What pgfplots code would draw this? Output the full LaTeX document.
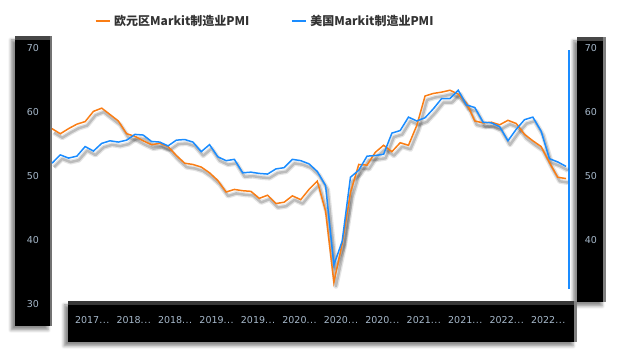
\documentclass[border=0pt]{standalone}
\usepackage{pgfplots}
\pgfplotsset{compat=1.18}
\usepackage{pgfplotstable}
\usepackage{fontspec}
\setmainfont{DejaVu Sans}
\newfontfamily\cjk{Noto Sans CJK SC}
\usetikzlibrary{shadows.blur}
\definecolor{eu}{HTML}{FA7D14}
\definecolor{us}{HTML}{1A8CFF}
\definecolor{tl}{HTML}{A6B8CA}
\definecolor{lg}{HTML}{333333}
\newcommand{\dd}{.\kern0.5pt.\kern0.5pt.}

\pgfplotstableread{
i eu us
0 57.4 52.0
1 56.6 53.3
2 57.4 52.8
3 58.1 53.1
4 58.5 54.6
5 60.1 53.9
6 60.6 55.1
7 59.6 55.5
8 58.6 55.3
9 56.6 55.6
10 56.2 56.5
11 55.5 56.4
12 54.9 55.4
13 55.1 55.3
14 54.6 54.7
15 53.2 55.6
16 52.0 55.7
17 51.8 55.3
18 51.4 53.8
19 50.5 54.9
20 49.3 53.0
21 47.5 52.4
22 47.9 52.6
23 47.7 50.5
24 47.6 50.6
25 46.5 50.4
26 47.0 50.3
27 45.7 51.1
28 45.9 51.3
29 46.9 52.6
30 46.3 52.4
31 47.9 51.9
32 49.2 50.7
33 44.5 48.5
34 33.4 36.1
35 39.4 39.8
36 47.4 49.8
37 51.8 50.9
38 51.7 53.1
39 53.7 53.2
40 54.8 53.4
41 53.8 56.7
42 55.2 57.1
43 54.8 59.2
44 57.9 58.6
45 62.5 59.1
46 62.9 60.5
47 63.1 62.1
48 63.4 62.1
49 62.8 63.4
50 61.4 61.1
51 58.6 60.7
52 58.3 58.4
53 58.4 58.3
54 58.0 57.7
55 58.7 55.5
56 58.2 57.3
57 56.5 58.8
58 55.5 59.2
59 54.6 57.0
60 52.1 52.7
61 49.8 52.2
62 49.6 51.5
}\pmi

\begin{document}
\begin{tikzpicture}[x=1pt,y=1pt]
\path[use as bounding box] (0,0) rectangle (635,356);
% left box
\fill[black, blur shadow={shadow xshift=-4pt, shadow yshift=-4pt, shadow opacity=45, shadow blur radius=3pt}] (15,30) rectangle (52,320);
\fill[black!72] (15,316) rectangle (52,320);
\fill[black!55] (49.5,30) rectangle (52,320);
% right box
\fill[black, blur shadow={shadow xshift=-4pt, shadow yshift=-4pt, shadow opacity=45, shadow blur radius=3pt}] (577,54) rectangle (606,319);
\fill[black!72] (577,315) rectangle (606,319);
\fill[black!50] (602.5,54) rectangle (606,319);
% bottom box
\fill[black, blur shadow={shadow xshift=-4pt, shadow yshift=-4pt, shadow opacity=45, shadow blur radius=3pt}] (68,14) rectangle (577,55);
\fill[black!78] (68,51) rectangle (577,55);
\fill[black!50] (573.5,14) rectangle (577,55);
% blue vertical line
\draw[us, line width=2pt] (569,67) -- (569,306);

\begin{axis}[
  at={(52pt,52pt)}, anchor=south west,
  width=514pt, height=256pt, scale only axis,
  xmin=0, xmax=62, ymin=30, ymax=70,
  clip=false,
  axis line style={draw=none},
  major tick length=0pt,
  xtick={6,11,16,21,26,31,36,41,46,51,56,61},
  xticklabels={2017\dd,2018\dd,2018\dd,2019\dd,2019\dd,2020\dd,2020\dd,2020\dd,2021\dd,2021\dd,2022\dd,2022\dd},
  xticklabel style={anchor=center, yshift=-16pt, xshift=-9.5pt},
  ytick={30,40,50,60,70},
  yticklabel style={anchor=center, xshift=-19pt},
  /pgf/number format/assume math mode=true,
  tick label style={font=\fontsize{9.5}{11}\selectfont, text=tl},
  legend columns=2,
  legend style={draw=none, fill=none, inner xsep=0pt, inner ysep=0pt,
    at={(axis description cs:0.0827,1.1055)}, anchor=west,
    font=\fontsize{12}{14}\selectfont\cjk\bfseries, text=lg,
    nodes={inner sep=3.5pt},
    /tikz/every even column/.append style={column sep=38pt}},
  legend image code/.code={\draw[#1, line width=2pt] (0pt,0pt) -- (14pt,0pt);},
]
\addplot[forget plot, black, opacity=0.10, line width=5pt, line join=round, xshift=2pt, yshift=-4pt] table[x=i,y=eu] {\pmi};
\addplot[forget plot, black, opacity=0.18, line width=2.5pt, line join=round, xshift=2pt, yshift=-4pt] table[x=i,y=eu] {\pmi};
\addplot[forget plot, black, opacity=0.10, line width=5pt, line join=round, xshift=2pt, yshift=-4pt] table[x=i,y=us] {\pmi};
\addplot[forget plot, black, opacity=0.18, line width=2.5pt, line join=round, xshift=2pt, yshift=-4pt] table[x=i,y=us] {\pmi};
\addplot[eu, line width=1.5pt, no marks] table[x=i,y=eu] {\pmi};
\addlegendentry{欧元区Markit制造业PMI}
\addplot[us, line width=1.5pt, no marks] table[x=i,y=us] {\pmi};
\addlegendentry{美国Markit制造业PMI}
\end{axis}

\begin{axis}[
  at={(52pt,52pt)}, anchor=south west,
  width=514pt, height=256pt, scale only axis,
  xmin=0, xmax=62, ymin=30, ymax=70,
  axis line style={draw=none},
  major tick length=0pt,
  xtick=\empty,
  ytick={40,50,60,70},
  yticklabel pos=right,
  yticklabel style={anchor=center, xshift=25pt},
  /pgf/number format/assume math mode=true,
  tick label style={font=\fontsize{9.5}{11}\selectfont, text=tl},
]
\end{axis}
\end{tikzpicture}
\end{document}
